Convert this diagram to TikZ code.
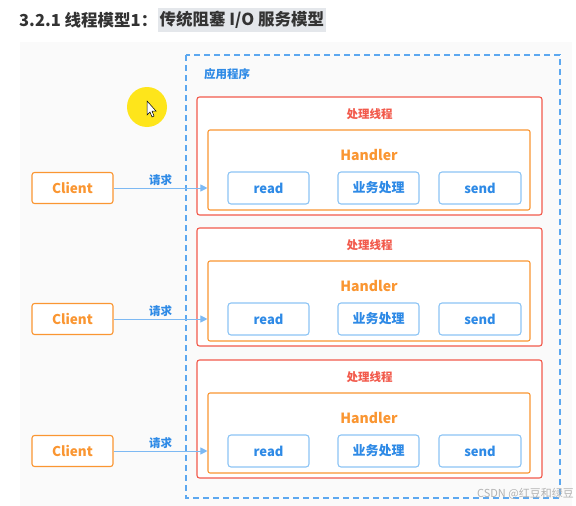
\documentclass[tikz,border=0pt]{standalone}
\usepackage{fontspec}
\setmainfont{Noto Sans CJK SC}
\usetikzlibrary{arrows.meta}
\definecolor{myorange}{HTML}{FA9632}
\definecolor{myred}{HTML}{F25A4C}
\definecolor{myblue}{HTML}{2E8AE6}
\definecolor{boxblue}{HTML}{8CC4F5}
\definecolor{dashblue}{HTML}{5CA8F0}
\definecolor{panelgray}{HTML}{FAFAFA}
\definecolor{markgray}{HTML}{E4E7EB}
\tikzset{
    every node/.style={inner sep=0pt, font=\bfseries},
    clientbox/.style={rectangle, rounded corners=2.5pt, draw=myorange, line width=1.1pt, fill=white, text=myorange, minimum width=81pt, minimum height=31pt, font=\bfseries\fontsize{13.5}{15}\selectfont},
    threadbox/.style={rectangle, rounded corners=2.5pt, draw=myred, line width=1.1pt, fill=white, minimum width=345pt, minimum height=118pt},
    handlerbox/.style={rectangle, rounded corners=2pt, draw=myorange, line width=1.1pt, minimum width=322pt, minimum height=80pt},
    stepbox/.style={rectangle, rounded corners=3pt, draw=boxblue, line width=1.1pt, text=myblue, minimum width=81pt, minimum height=32pt, font=\bfseries\fontsize{13}{15}\selectfont},
    threadlabel/.style={text=myred, font=\bfseries\fontsize{11.5}{13}\selectfont},
    handlerlabel/.style={text=myorange, font=\bfseries\fontsize{14}{16}\selectfont},
    reqlabel/.style={above=2pt, text=myblue, font=\bfseries\fontsize{11.5}{13}\selectfont},
    reqline/.style={draw=dashblue!80, line width=1pt, -{Triangle[length=7pt, width=7pt]}},
    titletext/.style={text=black!80, font=\bfseries\fontsize{16.5}{19}\selectfont}
}

\begin{document}
\begin{tikzpicture}[x=1pt, y=-1pt]
        \useasboundingbox (0,0) rectangle (576,506);
        \fill [panelgray] (20,42) rectangle (572,506);
        % title
        \node (title1) [titletext, anchor=west] at (19,20) {3.2.1 线程模型1：};
        \node (title2) [titletext, anchor=west, fill=markgray, inner xsep=2pt, minimum height=24pt] at (title1.east) {传统阻塞 I/O 服务模型};
        % cursor highlight
        \fill [yellow!85!orange!90] (147,107) circle (20);
        \draw [fill=white, line width=0.5pt] (147,101) -- (147,115) -- (150,112) -- (152,117) -- (154,116) -- (152,111) -- (156,111) -- cycle;
        % application
        \draw [dashblue, line width=1.1pt, dash pattern=on 6pt off 4pt] (186,55) rectangle (560,498);
        \node (app) [text=myblue, font=\bfseries\fontsize{11.5}{13}\selectfont] at (227,74) {应用程序};
        \node (t1) [threadbox] at (369.5,156) {};
        \node (t2) [threadbox] at (369.5,287) {};
        \node (t3) [threadbox] at (369.5,419) {};
        \node (tl1) [threadlabel] at (369.5,114) {处理线程};
        \node (tl2) [threadlabel] at (369.5,245) {处理线程};
        \node (tl3) [threadlabel] at (369.5,377) {处理线程};
        \node (h1) [handlerbox] at (369,170) {};
        \node (h2) [handlerbox] at (369,301) {};
        \node (h3) [handlerbox] at (369,433) {};
        \node (hl1) [handlerlabel] at (369,155) {Handler};
        \node (hl2) [handlerlabel] at (369,286) {Handler};
        \node (hl3) [handlerlabel] at (369,418) {Handler};
        \node (r1) [stepbox] at (268.5,188) {read};
        \node (r2) [stepbox] at (268.5,319) {read};
        \node (r3) [stepbox] at (268.5,451) {read};
        \node (b1) [stepbox] at (378.5,188) {业务处理};
        \node (b2) [stepbox] at (378.5,319) {业务处理};
        \node (b3) [stepbox] at (378.5,451) {业务处理};
        \node (s1) [stepbox, minimum width=82pt] at (480,188) {send};
        \node (s2) [stepbox, minimum width=82pt] at (480,319) {send};
        \node (s3) [stepbox, minimum width=82pt] at (480,451) {send};
        % clients
        \node (c1) [clientbox] at (72.5,188) {Client};
        \node (c2) [clientbox] at (72.5,319) {Client};
        \node (c3) [clientbox] at (72.5,451) {Client};
        \draw [reqline] (c1) -- node [reqlabel] {请求} (h1.west |- c1);
        \draw [reqline] (c2) -- node [reqlabel] {请求} (h2.west |- c2);
        \draw [reqline] (c3) -- node [reqlabel] {请求} (h3.west |- c3);
        % watermark
        \node (mark) [anchor=east, text=black!30, font=\fontsize{11}{13}\selectfont] at (574,494) {CSDN @红豆和绿豆};
\end{tikzpicture}
\end{document}
